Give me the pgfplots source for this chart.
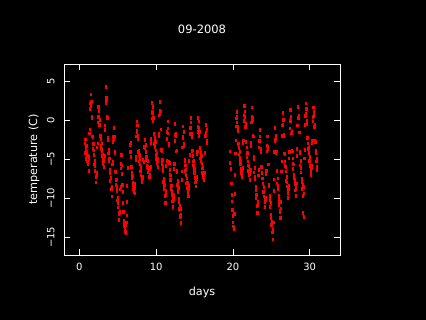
\documentclass[border=0pt]{standalone}
\usepackage{fontspec}
\setmainfont{DejaVu Sans}
\usepackage{pgfplots}
\pgfplotsset{compat=1.18}
\pgfdeclareplotmark{vbar}{\pgfpathrectangle{\pgfpoint{-1.1pt}{-1.8pt}}{\pgfpoint{2.2pt}{3.6pt}}\pgfusepathqfill}
\begin{document}
\begin{tikzpicture}
\fill[black] (0pt,0pt) rectangle (426pt,320pt);
\begin{axis}[
  at={(64pt,65pt)}, anchor=south west,
  scale only axis, width=276pt, height=191pt,
  xmin=-2, xmax=33.95, ymin=-17.27, ymax=7.18,
  xtick={0,10,20,30}, ytick={-15,-10,-5,0,5},
  yticklabels={−15,−10,−5,0,5},
  axis line style={white, line width=0.8pt},
  tick style={white, line width=0.8pt},
  major tick length=6pt,
  /pgf/number format/assume math mode=true,
  font=\fontsize{10}{12}\selectfont,
  every tick label/.append style={text=white},
  xticklabel style={anchor=north, inner sep=0pt, yshift=-7.7pt},
  yticklabel style={xshift=-9.3pt, rotate=90, anchor=south, inner sep=0pt},
  title={09-2008}, title style={text=white, font=\fontsize{11.5}{13}\selectfont, at={(axis description cs:0.5,1.148)}, anchor=center},
  xlabel={days}, xlabel style={text=white, font=\fontsize{11.2}{13}\selectfont, at={(axis description cs:0.5,-0.194)}, anchor=center},
  ylabel={temperature (C)}, ylabel style={text=white, font=\fontsize{11.2}{13}\selectfont, at={(axis description cs:-0.109,0.5)}, anchor=center},
]
\addplot[only marks, mark=vbar, color=red] coordinates {
(0.71,-3.0) (0.75,-4.2) (0.79,-2.5) (0.83,-3.8) (0.88,-5.0) (0.92,-3.3) (0.96,-4.6)
(1.00,-4.1) (1.04,-5.3) (1.08,-4.6) (1.13,-5.7) (1.17,-5.5) (1.21,-6.5) (1.25,-5.0) (1.29,-4.7) (1.33,-1.7) (1.38,-1.2) (1.42,1.4) (1.46,2.1) (1.50,3.3) (1.54,1.8) (1.58,2.3) (1.63,0.2) (1.67,0.4) (1.71,-2.1) (1.75,-2.2) (1.79,-3.7) (1.83,-3.1) (1.88,-4.5) (1.92,-3.9) (1.96,-5.7)
(2.00,-5.2) (2.04,-6.5) (2.08,-5.9) (2.13,-7.3) (2.17,-7.2) (2.21,-8.0) (2.25,-7.0) (2.29,-6.7) (2.33,-3.5) (2.38,-3.0) (2.42,-0.3) (2.46,0.4) (2.50,1.7) (2.54,0.4) (2.58,1.2) (2.63,-0.6) (2.67,0.0) (2.71,-2.1) (2.75,-2.0) (2.79,-3.3) (2.83,-2.5) (2.88,-3.7) (2.92,-3.0) (2.96,-4.6)
(3.00,-4.0) (3.04,-5.1) (3.08,-4.4) (3.13,-5.6) (3.17,-5.3) (3.21,-6.0) (3.25,-5.0) (3.29,-4.6) (3.33,-1.3) (3.38,-0.7) (3.42,2.1) (3.46,2.9) (3.50,4.2) (3.54,2.6) (3.58,2.8) (3.63,0.4) (3.67,0.3) (3.71,-2.3) (3.75,-2.6) (3.79,-4.3) (3.83,-3.8) (3.88,-5.3) (3.92,-4.9) (3.96,-6.8)
(4.00,-6.4) (4.04,-7.8) (4.08,-7.4) (4.13,-8.9) (4.17,-8.8) (4.21,-9.8) (4.25,-8.9) (4.29,-8.6) (4.33,-5.7) (4.38,-5.3) (4.42,-2.8) (4.46,-2.2) (4.50,-1.0) (4.54,-2.5) (4.58,-2.1) (4.63,-4.2) (4.67,-4.1) (4.71,-6.6) (4.75,-6.7) (4.79,-8.3) (4.83,-7.7) (4.88,-9.1) (4.92,-8.6) (4.96,-10.3)
(5.00,-9.9) (5.04,-11.2) (5.08,-10.7) (5.13,-12.1) (5.17,-11.9) (5.21,-12.8) (5.25,-11.9) (5.29,-11.7) (5.33,-8.9) (5.38,-8.6) (5.42,-6.2) (5.46,-5.6) (5.50,-4.5) (5.54,-5.8) (5.58,-6.9) (5.63,-8.3) (5.67,-9.2) (5.71,-10.6) (5.75,-11.8) (5.79,-12.9) (5.83,-13.6) (5.88,-13.2) (5.92,-14.1) (5.96,-13.7)
(6.00,-14.3) (6.04,-13.5) (6.08,-14.5) (6.13,-13.1) (6.17,-12.2) (6.21,-10.5) (6.25,-8.4) (6.29,-6.1) (6.63,-3.2) (6.67,-4.1) (6.71,-2.9) (6.75,-4.7) (6.79,-6.0) (6.83,-6.8) (6.88,-7.5) (6.92,-7.2) (6.96,-8.3)
(7.00,-8.0) (7.04,-8.9) (7.08,-8.3) (7.13,-9.2) (7.17,-8.7) (7.21,-9.4) (7.25,-8.4) (7.29,-8.1) (7.33,-5.1) (7.38,-4.7) (7.42,-2.1) (7.46,-1.4) (7.50,-0.2) (7.54,-1.5) (7.58,-0.7) (7.63,-2.5) (7.67,-2.0) (7.71,-4.1) (7.75,-3.9) (7.79,-5.3) (7.83,-4.5) (7.88,-5.7) (7.92,-5.0) (7.96,-6.6)
(8.00,-6.0) (8.04,-7.1) (8.08,-6.4) (8.13,-7.6) (8.17,-7.3) (8.21,-8.0) (8.25,-7.2) (8.29,-7.4) (8.33,-5.1) (8.38,-5.4) (8.42,-3.5) (8.46,-3.4) (8.50,-2.5) (8.54,-3.6) (8.58,-2.6) (8.63,-4.1) (8.67,-3.2) (8.71,-5.1) (8.75,-4.7) (8.79,-5.9) (8.83,-4.9) (8.88,-6.0) (8.92,-5.2) (8.96,-6.7)
(9.00,-6.1) (9.04,-7.2) (9.08,-6.3) (9.13,-7.3) (9.17,-7.0) (9.21,-7.3) (9.25,-6.3) (9.29,-6.0) (9.33,-2.9) (9.38,-2.4) (9.42,0.2) (9.46,1.0) (9.50,2.2) (9.54,0.9) (9.58,1.7) (9.63,-0.2) (9.67,0.3) (9.71,-1.8) (9.75,-1.7) (9.79,-3.1) (9.83,-2.3) (9.88,-3.5) (9.92,-2.8) (9.96,-4.5)
(10.00,-3.9) (10.04,-5.0) (10.08,-4.3) (10.13,-5.5) (10.17,-5.3) (10.21,-6.0) (10.25,-5.1) (10.29,-4.9) (10.33,-2.0) (10.38,-1.8) (10.42,0.6) (10.46,1.2) (10.50,2.3) (10.54,0.7) (10.58,1.1) (10.63,-1.2) (10.67,-1.2) (10.71,-3.8) (10.75,-4.0) (10.79,-5.6) (10.83,-5.1) (10.88,-6.5) (10.92,-6.0) (10.96,-7.9)
(11.00,-7.5) (11.04,-8.8) (11.08,-8.3) (11.13,-9.8) (11.17,-9.7) (11.21,-10.6) (11.25,-9.6) (11.29,-9.1) (11.33,-5.9) (11.38,-5.2) (11.42,-2.4) (11.46,-1.5) (11.50,-0.2) (11.54,-1.7) (11.58,-1.1) (11.63,-3.2) (11.67,-3.0) (11.71,-5.4) (11.75,-5.5) (11.79,-7.0) (11.83,-6.4) (11.88,-7.7) (11.92,-7.1) (11.96,-8.9)
(12.00,-8.4) (12.04,-9.6) (12.08,-9.1) (12.13,-10.4) (12.17,-10.3) (12.21,-11.1) (12.25,-10.1) (12.29,-9.6) (12.33,-6.3) (12.38,-5.6) (12.42,-2.7) (12.46,-1.9) (12.50,-0.5) (12.54,-2.1) (12.58,-1.7) (12.63,-4.0) (12.67,-3.9) (12.71,-6.5) (12.75,-6.7) (12.79,-8.3) (12.83,-7.8) (12.88,-9.2) (12.92,-8.7) (12.96,-10.5)
(13.00,-10.1) (13.04,-11.4) (13.08,-11.0) (13.13,-12.4) (13.17,-12.3) (13.21,-13.2) (13.25,-12.1) (13.29,-11.4) (13.33,-7.7) (13.38,-6.6) (13.42,-3.5) (13.46,-2.3) (13.50,-0.8) (13.54,-2.1) (13.58,-1.5) (13.63,-3.4) (13.67,-3.0) (13.71,-5.2) (13.75,-5.1) (13.79,-6.5) (13.83,-5.8) (13.88,-7.0) (13.92,-6.4) (13.96,-8.1)
(14.00,-7.5) (14.04,-8.7) (14.08,-8.0) (14.13,-9.3) (14.17,-9.0) (14.21,-9.8) (14.25,-8.8) (14.29,-8.4) (14.33,-5.2) (14.38,-4.5) (14.42,-1.8) (14.46,-1.0) (14.50,0.3) (14.54,-1.0) (14.58,-0.3) (14.63,-2.2) (14.67,-1.8) (14.71,-4.0) (14.75,-3.9) (14.79,-5.3) (14.83,-4.6) (14.88,-5.8) (14.92,-5.2) (14.96,-6.8)
(15.00,-6.3) (15.04,-7.4) (15.08,-6.8) (15.13,-8.0) (15.17,-7.8) (15.21,-8.5) (15.25,-7.6) (15.29,-7.3) (15.33,-4.4) (15.38,-4.0) (15.42,-1.5) (15.46,-0.9) (15.50,0.3) (15.54,-1.0) (15.58,-0.2) (15.63,-2.0) (15.67,-1.5) (15.71,-3.6) (15.75,-3.5) (15.79,-4.9) (15.83,-4.1) (15.88,-5.3) (15.92,-4.6) (15.96,-6.2)
(16.00,-5.6) (16.04,-6.8) (16.08,-6.1) (16.13,-7.3) (16.17,-7.0) (16.21,-7.7) (16.25,-6.8) (16.29,-6.8) (16.33,-4.2) (16.38,-4.2) (16.42,-2.0) (16.46,-1.6) (16.50,-0.6) (16.54,-1.8) (16.58,-1.2) (16.63,-3.0) (16.67,-2.6)
(19.58,-4.0) (19.67,-5.5) (19.75,-6.3) (19.83,-8.1) (19.88,-9.6) (19.92,-10.4) (19.96,-11.5)
(20.00,-12.3) (20.04,-13.1) (20.08,-13.6) (20.13,-14.0) (20.17,-13.8) (20.21,-12.0) (20.25,-9.5) (20.29,-7.0) (20.33,-4.3) (20.38,-2.6) (20.42,-0.8) (20.46,0.2) (20.50,1.0) (20.54,-0.3) (20.58,0.4) (20.63,-1.4) (20.67,-0.9) (20.71,-3.1) (20.75,-3.0) (20.79,-4.4) (20.83,-3.6) (20.88,-4.8) (20.92,-4.1) (20.96,-5.7)
(21.00,-5.2) (21.04,-6.3) (21.08,-5.6) (21.13,-6.8) (21.17,-6.6) (21.21,-7.3) (21.25,-6.3) (21.29,-6.1) (21.33,-3.0) (21.38,-2.6) (21.42,-0.1) (21.46,0.6) (21.50,1.8) (21.54,0.4) (21.58,1.1) (21.63,-0.9) (21.67,-0.5) (21.71,-2.8) (21.75,-2.8) (21.79,-4.2) (21.83,-3.5) (21.88,-4.8) (21.92,-4.2) (21.96,-5.8)
(22.00,-5.3) (22.04,-6.5) (22.08,-5.9) (22.13,-7.1) (22.17,-6.9) (22.21,-7.7) (22.25,-6.7) (22.29,-6.4) (22.33,-3.4) (22.38,-2.9) (22.42,-0.3) (22.46,0.4) (22.50,1.6) (22.54,0.0) (22.58,0.3) (22.63,-2.0) (22.67,-2.1) (22.71,-4.7) (22.75,-5.0) (22.79,-6.7) (22.83,-6.1) (22.88,-7.6) (22.92,-7.2) (22.96,-9.0)
(23.00,-8.6) (23.04,-10.0) (23.08,-9.6) (23.13,-11.0) (23.17,-11.0) (23.21,-11.9) (23.25,-10.9) (23.29,-10.4) (23.33,-7.1) (23.38,-6.4) (23.42,-3.5) (23.46,-2.7) (23.50,-1.3) (23.54,-2.7) (23.58,-2.1) (23.63,-4.1) (23.67,-3.7) (23.71,-6.0) (23.75,-6.0) (23.79,-7.5) (23.83,-6.8) (23.88,-8.1) (23.92,-7.5) (23.96,-9.2)
(24.00,-8.6) (24.04,-9.8) (24.08,-9.2) (24.13,-10.5) (24.17,-10.3) (24.21,-11.1) (24.25,-10.2) (24.29,-9.9) (24.33,-6.9) (24.38,-6.5) (24.42,-4.0) (24.46,-3.3) (24.50,-2.1) (24.54,-3.7) (24.58,-3.4) (24.63,-5.7) (24.67,-5.7) (24.71,-8.3) (24.75,-8.5) (24.79,-10.2) (24.83,-9.7) (24.88,-11.1) (24.92,-10.6) (24.96,-12.5)
(25.00,-12.1) (25.04,-13.4) (25.08,-13.0) (25.13,-14.4) (25.17,-14.4) (25.21,-15.3) (25.25,-14.1) (25.29,-13.1) (25.33,-9.1) (25.38,-7.6) (25.42,-4.1) (25.46,-2.7) (25.50,-1.0) (25.54,-2.5) (25.58,-2.0) (25.63,-4.2) (25.67,-4.0) (25.71,-6.5) (25.75,-6.6) (25.79,-8.1) (25.83,-7.5) (25.88,-8.9) (25.92,-8.4) (25.96,-10.1)
(26.00,-9.7) (26.04,-10.9) (26.08,-10.4) (26.13,-11.8) (26.17,-11.6) (26.21,-12.5) (26.25,-11.3) (26.29,-10.5) (26.33,-6.6) (26.38,-5.3) (26.42,-2.0) (26.46,-0.7) (26.50,0.9) (26.54,-0.6) (26.58,0.0) (26.63,-2.1) (26.67,-1.9) (26.71,-4.3) (26.75,-4.4) (26.79,-5.9) (26.83,-5.3) (26.88,-6.6) (26.92,-6.0) (26.96,-7.8)
(27.00,-7.3) (27.04,-8.5) (27.08,-8.0) (27.13,-9.3) (27.17,-9.2) (27.21,-10.0) (27.25,-8.9) (27.29,-8.4) (27.33,-4.9) (27.38,-4.1) (27.42,-1.1) (27.46,-0.1) (27.50,1.3) (27.54,-0.2) (27.58,0.4) (27.63,-1.7) (27.67,-1.5) (27.71,-3.9) (27.75,-4.0) (27.79,-5.6) (27.83,-4.9) (27.88,-6.3) (27.92,-5.7) (27.96,-7.4)
(28.00,-7.0) (28.04,-8.2) (28.08,-7.7) (28.13,-9.0) (28.17,-8.9) (28.21,-9.7) (28.25,-8.6) (28.29,-8.1) (28.33,-4.6) (28.38,-3.7) (28.42,-0.7) (28.46,0.3) (28.50,1.7) (28.54,0.2) (28.58,0.6) (28.63,-1.6) (28.67,-1.6) (28.71,-4.1) (28.75,-4.2) (28.79,-5.8) (28.83,-5.2) (28.88,-6.7) (28.92,-6.1) (28.96,-7.9)
(29.00,-7.5) (29.04,-8.8) (29.08,-8.3) (29.13,-9.7) (29.17,-11.9) (29.21,-12.4) (29.25,-9.4) (29.29,-8.6) (29.33,-4.9) (29.38,-3.8) (29.42,-0.6) (29.46,0.5) (29.50,2.1) (29.54,0.8) (29.58,1.4) (29.63,-0.5) (29.67,-0.1) (29.71,-2.3) (29.75,-2.3) (29.79,-3.7) (29.83,-3.0) (29.88,-4.2) (29.92,-3.6) (29.96,-5.2)
(30.00,-4.7) (30.04,-5.9) (30.08,-5.2) (30.13,-6.5) (30.17,-6.2) (30.21,-7.0) (30.25,-6.1) (30.29,-5.9) (30.33,-2.9) (30.38,-2.6) (30.42,-0.2) (30.46,0.4) (30.50,1.6) (30.54,0.5) (30.58,1.0) (30.63,-0.9) (30.67,-0.6) (30.71,-2.6) (30.75,-2.8) (30.79,-4.3) (30.83,-3.9) (30.88,-5.3) (30.92,-5.0) (30.96,-6.4)
(31.00,-6.0)
};
\end{axis}
\end{tikzpicture}
\end{document}
